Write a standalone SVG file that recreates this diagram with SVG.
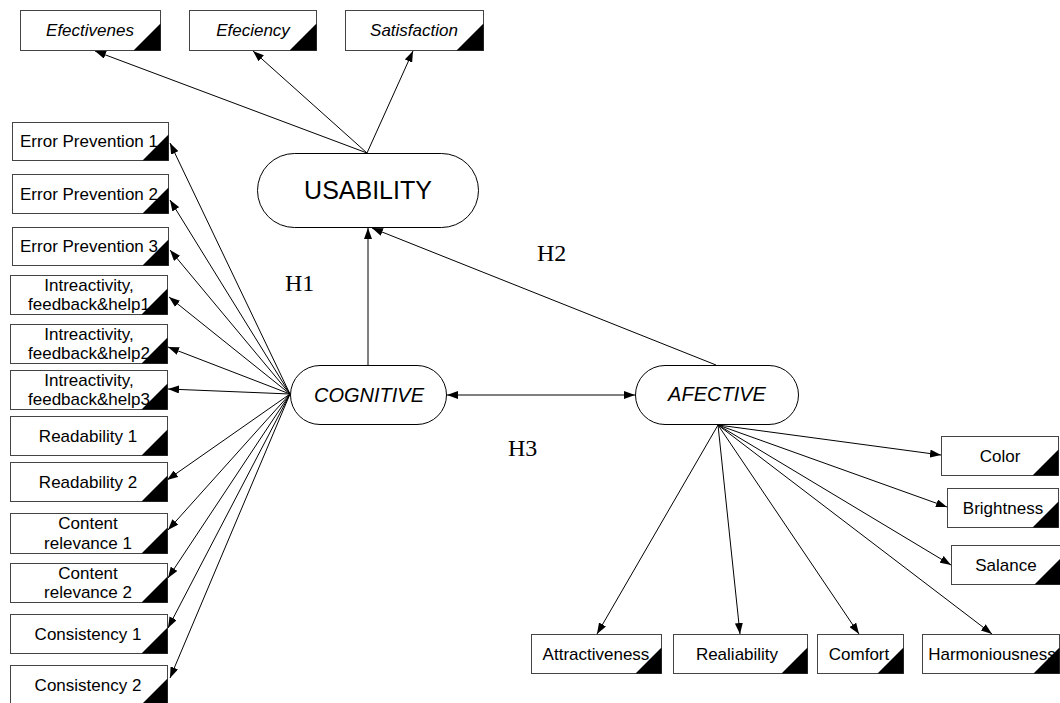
<svg xmlns="http://www.w3.org/2000/svg" width="1060" height="703" viewBox="0 0 1060 703">
<defs>
<style>
.box{fill:#fff;stroke:#444;stroke-width:1}
.tri{fill:#000}
.t{font-family:"Liberation Sans",Arial,sans-serif;font-size:17px;fill:#000;text-anchor:middle}
.ti{font-family:"Liberation Sans",Arial,sans-serif;font-size:17px;font-style:italic;fill:#000;text-anchor:middle}
.lv{fill:#fff;stroke:#000;stroke-width:1}
.lt{font-family:"Liberation Sans",Arial,sans-serif;font-size:20px;font-style:italic;fill:#000;text-anchor:middle}
.h{font-family:"Liberation Serif","Times New Roman",serif;font-size:24px;fill:#000}
.c{stroke:#000;stroke-width:1;fill:none;marker-end:url(#ah)}
</style>
<marker id="ah" markerUnits="userSpaceOnUse" markerWidth="12" markerHeight="8" refX="11" refY="4" orient="auto-start-reverse">
<path d="M0,0 L11,4 L0,8 z" fill="#000"/>
</marker>
</defs>
<rect width="1060" height="703" fill="#fff"/>

<g id="connectors">
<line class="c" x1="367" y1="153" x2="95" y2="51"/>
<line class="c" x1="367" y1="153" x2="253" y2="51"/>
<line class="c" x1="367" y1="153" x2="413" y2="51"/>
<line class="c" x1="368" y1="365" x2="368" y2="228"/>
<line class="c" x1="716" y1="365" x2="372" y2="228"/>
<line class="c" x1="447" y1="395" x2="635" y2="395" style="marker-start:url(#ah)"/>
<line class="c" x1="290" y1="394" x2="170" y2="143"/>
<line class="c" x1="290" y1="394" x2="170" y2="200"/>
<line class="c" x1="290" y1="394" x2="170" y2="250"/>
<line class="c" x1="290" y1="394" x2="169" y2="297"/>
<line class="c" x1="290" y1="394" x2="168" y2="347"/>
<line class="c" x1="290" y1="394" x2="168" y2="389"/>
<line class="c" x1="290" y1="394" x2="167" y2="480"/>
<line class="c" x1="290" y1="394" x2="168" y2="530"/>
<line class="c" x1="290" y1="394" x2="168" y2="578"/>
<line class="c" x1="290" y1="394" x2="168" y2="628"/>
<line class="c" x1="290" y1="394" x2="170" y2="678"/>
<line class="c" x1="718" y1="425" x2="941" y2="455"/>
<line class="c" x1="718" y1="425" x2="947" y2="507"/>
<line class="c" x1="718" y1="425" x2="951" y2="565"/>
<line class="c" x1="718" y1="425" x2="597" y2="634"/>
<line class="c" x1="718" y1="425" x2="740" y2="634"/>
<line class="c" x1="718" y1="425" x2="859" y2="634"/>
<line class="c" x1="718" y1="425" x2="992" y2="634"/>
</g>

<g id="efectivenes"><rect class="box" x="20.5" y="10.5" width="140" height="40"/><polygon class="tri" points="160.5,23.5 160.5,50.5 133.5,50.5"/><text class="ti" x="90" y="36">Efectivenes</text></g>
<g id="efeciency"><rect class="box" x="189.5" y="10.5" width="127" height="40"/><polygon class="tri" points="316.5,23.5 316.5,50.5 289.5,50.5"/><text class="ti" x="253" y="36">Efeciency</text></g>
<g id="satisfaction"><rect class="box" x="345.5" y="10.5" width="138" height="40"/><polygon class="tri" points="483.5,23.5 483.5,50.5 456.5,50.5"/><text class="ti" x="414" y="36">Satisfaction</text></g>

<g id="usability"><rect class="lv" x="257.5" y="153.5" width="221" height="74" rx="37" ry="37"/><text x="368" y="199" font-family="'Liberation Sans',Arial,sans-serif" font-size="25" text-anchor="middle">USABILITY</text></g>
<g id="cognitive"><rect class="lv" x="290.5" y="365.5" width="156" height="59" rx="29.5" ry="29.5"/><text class="lt" x="369" y="402">COGNITIVE</text></g>
<g id="afective"><rect class="lv" x="635.5" y="365.5" width="163" height="59" rx="29.5" ry="29.5"/><text class="lt" x="717" y="401">AFECTIVE</text></g>

<g id="h1"><text class="h" x="285" y="291">H1</text></g>
<g id="h2"><text class="h" x="537" y="261">H2</text></g>
<g id="h3"><text class="h" x="508" y="456">H3</text></g>

<g id="ep1"><rect class="box" x="12.5" y="122.5" width="156" height="38"/><polygon class="tri" points="168.5,134.5 168.5,160.5 142.5,160.5"/><text class="t" x="89" y="147">Error Prevention 1</text></g>
<g id="ep2"><rect class="box" x="12.5" y="174.5" width="156" height="39"/><polygon class="tri" points="168.5,187.5 168.5,213.5 142.5,213.5"/><text class="t" x="89" y="200">Error Prevention 2</text></g>
<g id="ep3"><rect class="box" x="12.5" y="227.5" width="156" height="38"/><polygon class="tri" points="168.5,239.5 168.5,265.5 142.5,265.5"/><text class="t" x="89" y="252">Error Prevention 3</text></g>
<g id="ifh1"><rect class="box" x="10.5" y="275.5" width="157" height="39"/><polygon class="tri" points="167.5,288.5 167.5,314.5 141.5,314.5"/><text class="t" x="89" y="291">Intreactivity,</text><text class="t" x="89" y="310">feedback&amp;help1</text></g>
<g id="ifh2"><rect class="box" x="10.5" y="324.5" width="157" height="39"/><polygon class="tri" points="167.5,337.5 167.5,363.5 141.5,363.5"/><text class="t" x="89" y="340">Intreactivity,</text><text class="t" x="89" y="359">feedback&amp;help2</text></g>
<g id="ifh3"><rect class="box" x="10.5" y="370.5" width="157" height="39"/><polygon class="tri" points="167.5,383.5 167.5,409.5 141.5,409.5"/><text class="t" x="89" y="386">Intreactivity,</text><text class="t" x="89" y="405">feedback&amp;help3</text></g>
<g id="rd1"><rect class="box" x="10.5" y="416.5" width="157" height="39"/><polygon class="tri" points="167.5,429.5 167.5,455.5 141.5,455.5"/><text class="t" x="88" y="442">Readability 1</text></g>
<g id="rd2"><rect class="box" x="10.5" y="462.5" width="157" height="39"/><polygon class="tri" points="167.5,475.5 167.5,501.5 141.5,501.5"/><text class="t" x="88" y="488">Readability 2</text></g>
<g id="cr1"><rect class="box" x="10.5" y="513.5" width="157" height="40"/><polygon class="tri" points="167.5,527.5 167.5,553.5 141.5,553.5"/><text class="t" x="88" y="529">Content</text><text class="t" x="88" y="549">relevance 1</text></g>
<g id="cr2"><rect class="box" x="10.5" y="563.5" width="157" height="39"/><polygon class="tri" points="167.5,576.5 167.5,602.5 141.5,602.5"/><text class="t" x="88" y="579">Content</text><text class="t" x="88" y="598">relevance 2</text></g>
<g id="cs1"><rect class="box" x="10.5" y="614.5" width="157" height="39"/><polygon class="tri" points="167.5,627.5 167.5,653.5 141.5,653.5"/><text class="t" x="88" y="640">Consistency 1</text></g>
<g id="cs2"><rect class="box" x="10.5" y="665.5" width="157" height="39"/><polygon class="tri" points="167.5,678.5 167.5,704.5 141.5,704.5"/><text class="t" x="88" y="691">Consistency 2</text></g>

<g id="color"><rect class="box" x="941.5" y="436.5" width="117" height="39"/><polygon class="tri" points="1058.5,449.5 1058.5,475.5 1032.5,475.5"/><text class="t" x="1000" y="462">Color</text></g>
<g id="brightness"><rect class="box" x="947.5" y="488.5" width="111" height="39"/><polygon class="tri" points="1058.5,501.5 1058.5,527.5 1032.5,527.5"/><text class="t" x="1003" y="514">Brightness</text></g>
<g id="salance"><rect class="box" x="951.5" y="545.5" width="109" height="39"/><polygon class="tri" points="1060.5,558.5 1060.5,584.5 1034.5,584.5"/><text class="t" x="1006" y="571">Salance</text></g>

<g id="attractiveness"><rect class="box" x="531.5" y="634.5" width="130" height="39"/><polygon class="tri" points="661.5,647.5 661.5,673.5 635.5,673.5"/><text class="t" x="596" y="660">Attractiveness</text></g>
<g id="realiability"><rect class="box" x="673.5" y="634.5" width="134" height="39"/><polygon class="tri" points="807.5,647.5 807.5,673.5 781.5,673.5"/><text class="t" x="737" y="660">Realiability</text></g>
<g id="comfort"><rect class="box" x="817.5" y="634.5" width="86" height="39"/><polygon class="tri" points="903.5,647.5 903.5,673.5 877.5,673.5"/><text class="t" x="859" y="660">Comfort</text></g>
<g id="harmoniousness"><rect class="box" x="922.5" y="634.5" width="137" height="39"/><polygon class="tri" points="1059.5,647.5 1059.5,673.5 1033.5,673.5"/><text class="t" x="992" y="660">Harmoniousness</text></g>
</svg>
